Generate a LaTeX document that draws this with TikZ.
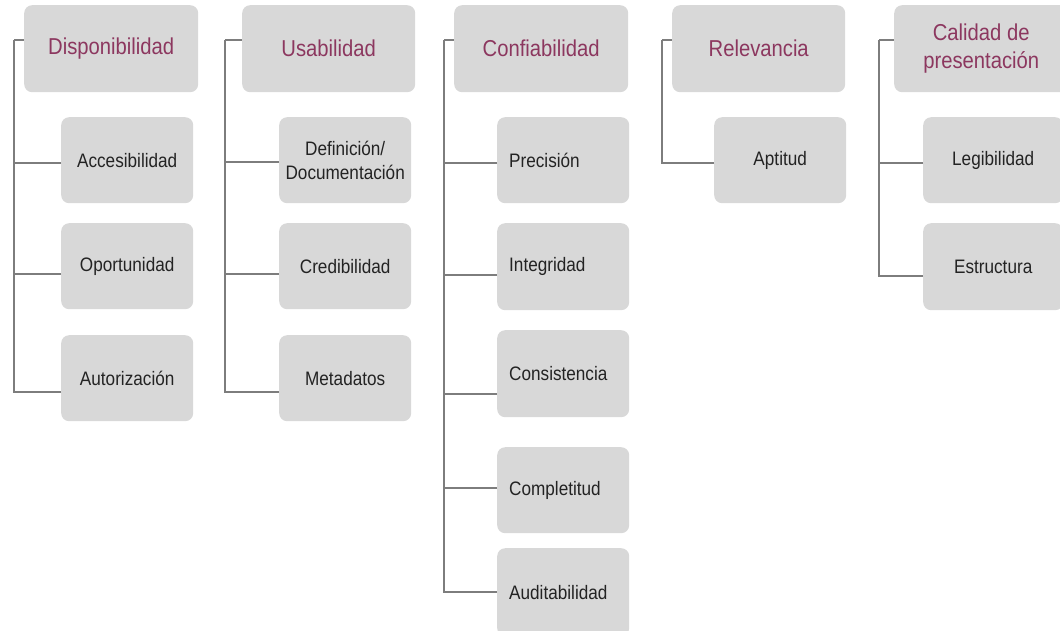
\documentclass[tikz,border=0pt]{standalone}
\usepackage{fontspec}
\setmainfont{Liberation Sans}[FakeStretch=0.88]
\usetikzlibrary{positioning,calc}
\definecolor{boxgray}{RGB}{216,216,216}
\definecolor{linegray}{RGB}{125,125,125}
\definecolor{headred}{RGB}{140,55,95}
\definecolor{leafgray}{RGB}{35,35,35}
\tikzset{
head/.style = {fill=boxgray, rounded corners=8pt, minimum width=174pt, minimum height=87pt, anchor=north west, text=headred, font=\fontsize{23}{27.5}\selectfont, align=center},
leaf/.style = {fill=boxgray, rounded corners=8pt, minimum width=132pt, minimum height=86pt, anchor=north west, text=leafgray, font=\fontsize{19.5}{24}\selectfont, align=center},
leafl/.style = {leaf, text width=108pt, inner xsep=12pt, align=left},
tmp/.style = {coordinate},
link/.style = {draw=linegray, line width=1.8pt}
}

\begin{document}
\begin{tikzpicture}[x=1pt, y=-1pt]
	\useasboundingbox (0,0) rectangle (1060,630);
	\clip (0,0) rectangle (1060,630);
	% Disponibilidad
	\node[head] (disp) at (24,5) {Disponibilidad};
	\node[leaf] (acc) at (61,117) {Accesibilidad};
	\node[leaf] (opor) at (61,223) {Oportunidad};
	\node[leaf] (aut) at (61,335) {Autorización};
	\node[tmp] (t1) at (14,40) {};
	\draw[link] (t1) -- (t1 -| disp.west);
	\draw[link] (acc.west) ++(0,3) -| (t1);
	\draw[link] (opor.west) ++(0,8) -| (t1);
	\draw[link] (aut.west) ++(0,14) -| (t1);
	% Usabilidad
	\node[head, minimum width=173pt] (usab) at (242,5) {Usabilidad};
	\node[leaf] (defi) at (279,117) {Definición/\\Documentación};
	\node[leaf] (cred) at (279,223) {Credibilidad};
	\node[leaf] (meta) at (279,335) {Metadatos};
	\node[tmp] (t2) at (225,40) {};
	\draw[link] (t2) -- (t2 -| usab.west);
	\draw[link] (defi.west) ++(0,2) -| (t2);
	\draw[link] (cred.west) ++(0,8) -| (t2);
	\draw[link] (meta.west) ++(0,14) -| (t2);
	% Confiabilidad
	\node[head] (conf) at (454,5) {Confiabilidad};
	\node[leafl] (prec) at (497,117) {Precisión};
	\node[leafl, minimum height=87pt] (integ) at (497,223) {Integridad};
	\node[leafl, minimum height=87pt] (cons) at (497,330) {Consistencia};
	\node[leafl] (compl) at (497,447) {Completitud};
	\node[leafl, minimum height=88pt] (audit) at (497,548) {Auditabilidad};
	\node[tmp] (t3) at (444,40) {};
	\draw[link] (t3) -- (t3 -| conf.west);
	\draw[link] (prec.west) ++(0,3) -| (t3);
	\draw[link] (integ.west) ++(0,8) -| (t3);
	\draw[link] (cons.west) ++(0,20) -| (t3);
	\draw[link] (compl.west) ++(0,-2) -| (t3);
	\draw[link] (audit.west) -| (t3);
	% Relevancia
	\node[head, minimum width=173pt] (relev) at (672,5) {Relevancia};
	\node[leaf] (apt) at (714,117) {Aptitud};
	\node[tmp] (t4) at (662,40) {};
	\draw[link] (t4) -- (t4 -| relev.west);
	\draw[link] (apt.west) ++(0,3) -| (t4);
	% Calidad de presentacion
	\node[head] (calid) at (894,5) {Calidad de\\presentación};
	\node[leaf, minimum width=140pt] (legib) at (923,117) {Legibilidad};
	\node[leaf, minimum width=140pt, minimum height=87pt] (estr) at (923,223) {Estructura};
	\node[tmp] (t5) at (879,40) {};
	\draw[link] (t5) -- (t5 -| calid.west);
	\draw[link] (legib.west) ++(0,3) -| (t5);
	\draw[link] (estr.west) ++(0,9) -| (t5);
\end{tikzpicture}
\end{document}
